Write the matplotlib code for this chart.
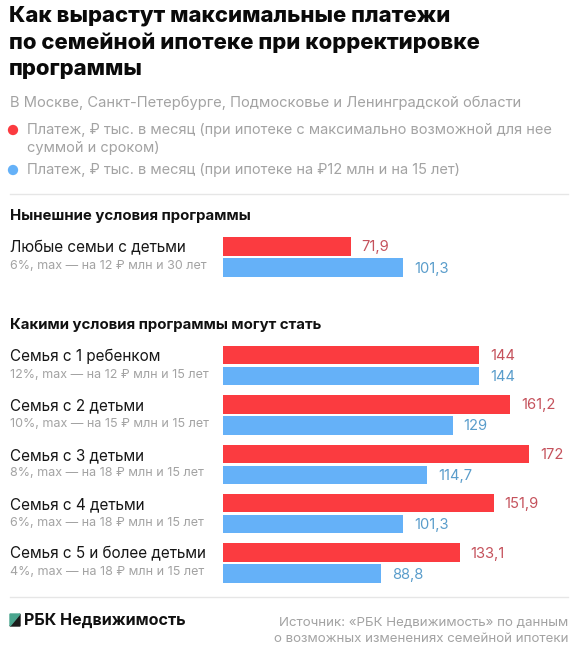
import matplotlib
matplotlib.use('Agg')
import matplotlib.pyplot as plt
from matplotlib.patches import Polygon

plt.rcParams['font.family'] = ['Inter', 'DejaVu Sans']

W, H = 578, 649

# --- data ---
title = "Как вырастут максимальные платежи\nпо семейной ипотеке при корректировке\nпрограммы"
subtitle = "В Москве, Санкт-Петербурге, Подмосковье и Ленинградской области"
legend_red = "Платеж, ₽ тыс. в месяц (при ипотеке с максимально возможной для нее\nсуммой и сроком)"
legend_blue = "Платеж, ₽ тыс. в месяц (при ипотеке на ₽12 млн и на 15 лет)"

section_now = "Нынешние условия программы"
section_new = "Какими условия программы могут стать"

names = ["Любые семьи с детьми", "Семья с 1 ребенком", "Семья с 2 детьми",
         "Семья с 3 детьми", "Семья с 4 детьми", "Семья с 5 и более детьми"]
notes = ["6%, max — на 12 ₽ млн и 30 лет", "12%, max — на 12 ₽ млн и 15 лет",
         "10%, max — на 15 ₽ млн и 15 лет", "8%, max — на 18 ₽ млн и 15 лет",
         "6%, max — на 18 ₽ млн и 15 лет", "4%, max — на 18 ₽ млн и 15 лет"]
pay_max = [71.9, 144, 161.2, 172, 151.9, 133.1]
pay_12m = [101.3, 144, 129, 114.7, 101.3, 88.8]

source = "Источник: «РБК Недвижимость» по данным\nо возможных изменениях семейной ипотеки"
brand = "РБК Недвижимость"

RED = "#fb3b40"
BLUE = "#65b1f8"
RED_TXT = "#c5525c"
BLUE_TXT = "#5a9dcb"
GRAY = "#a3a3a3"

fig = plt.figure(figsize=(W / 100, H / 100), dpi=100)
fig.patch.set_facecolor("white")

def px(x, y):
    return x / W, 1 - y / H

def txt(x, y, s, **kw):
    fig.text(*px(x, y), s, **kw)

# full-figure overlay in pixel coords for dots, rules, logo
ov = fig.add_axes([0, 0, 1, 1], zorder=-1)
ov.set_xlim(0, W)
ov.set_ylim(H, 0)
ov.axis('off')

# header
txt(9, 6, title, fontsize=15.9, fontweight='heavy', color='#0a0a0a', va='top', linespacing=1.36)
txt(10, 103, subtitle, fontsize=10.6, color=GRAY, va='center')
ov.scatter([13], [130], s=55, color=RED, edgecolor='none')
ov.scatter([13], [170], s=55, color=BLUE, edgecolor='none')
txt(27, 139, legend_red, fontsize=10.5, color=GRAY, va='center', linespacing=1.3)
txt(27, 170, legend_blue, fontsize=10.5, color=GRAY, va='center')
ov.plot([10, 568], [193.5, 193.5], color='#e6e6e6', lw=1)
ov.plot([10, 568], [597, 597], color='#e6e6e6', lw=1)

txt(10, 216, section_now, fontsize=10.8, fontweight='bold', color='#111111', va='center')
txt(10, 325, section_new, fontsize=10.8, fontweight='bold', color='#111111', va='center')

# bars
x0 = 222.7
scale = 1.783
ax = fig.add_axes([x0 / W, 0, 340 / W, 1])
ax.set_xlim(0, 340 / scale)
ax.set_ylim(H, 0)
ax.axis('off')

red_y = [246.5] + [355 + 49.4 * i for i in range(5)]
blue_y = [y + 21 for y in red_y]
ax.barh(red_y, pay_max, height=18.5, color=RED)
ax.barh(blue_y, pay_12m, height=18.5, color=BLUE)

def fmt(v):
    return ("%g" % v).replace('.', ',')

for yr, yb, vr, vb in zip(red_y, blue_y, pay_max, pay_12m):
    ax.text(vr + 6, yr + 1, fmt(vr), fontsize=10.6, color=RED_TXT, va='center')
    ax.text(vb + 6, yb + 1, fmt(vb), fontsize=10.6, color=BLUE_TXT, va='center')

for yr, yb, n, s in zip(red_y, blue_y, names, notes):
    txt(10, yr + 1.5, n, fontsize=11, color='#161616', va='center')
    txt(10, yb - 1.5, s, fontsize=9, color=GRAY, va='center')

# footer
ov.add_patch(Polygon([[10, 626], [20, 614], [20, 626]], closed=True, color='#1c1c1c'))
ov.add_patch(Polygon([[10, 614], [20, 614], [10, 626]], closed=True, color='#4aa58e'))
txt(24, 620.5, brand, fontsize=11.6, fontweight='bold', color='#111111', va='center')
txt(568, 631, source, fontsize=9.6, color=GRAY, va='center', ha='right', linespacing=1.35)

fig.savefig("out.png", dpi=100, facecolor="white")
